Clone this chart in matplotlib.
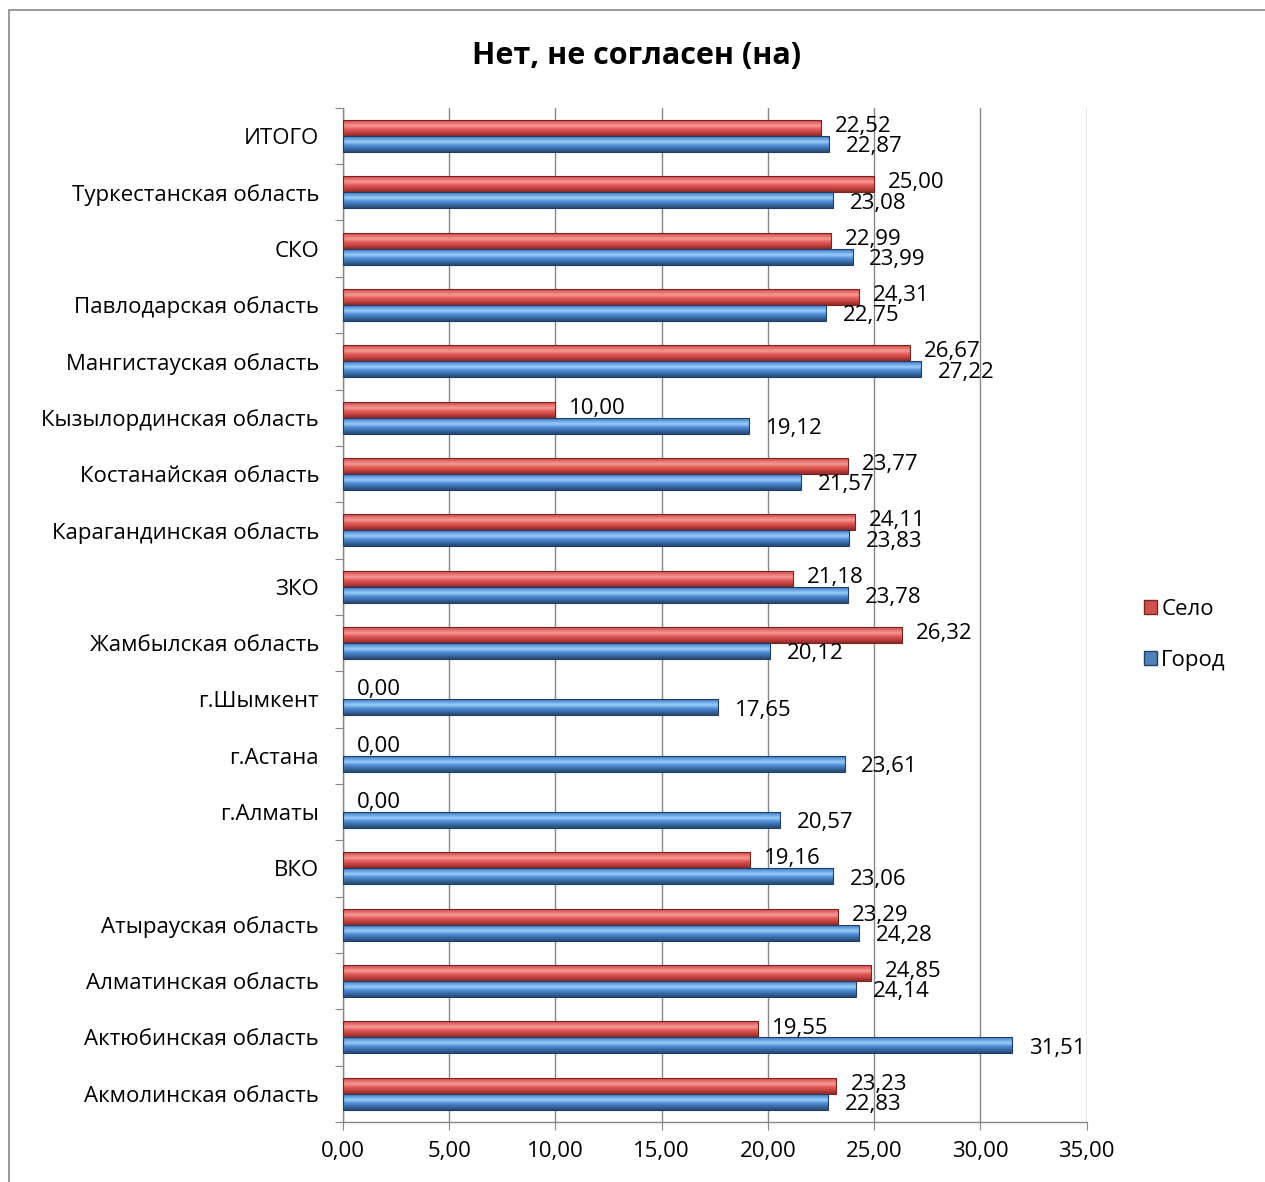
import numpy as np
import matplotlib.pyplot as plt
from matplotlib.patches import Rectangle
from matplotlib.colors import LinearSegmentedColormap

plt.rcParams['font.family'] = ['Open Sans', 'DejaVu Sans']

categories = ['Акмолинская область', 'Актюбинская область', 'Алматинская область',
              'Атырауская область', 'ВКО', 'г.Алматы', 'г.Астана', 'г.Шымкент',
              'Жамбылская область', 'ЗКО', 'Карагандинская область',
              'Костанайская область', 'Кызылординская область',
              'Мангистауская область', 'Павлодарская область', 'СКО',
              'Туркестанская область', 'ИТОГО']
selo = [23.23, 19.55, 24.85, 23.29, 19.16, 0.00, 0.00, 0.00, 26.32, 21.18,
        24.11, 23.77, 10.00, 26.67, 24.31, 22.99, 25.00, 22.52]
gorod = [22.83, 31.51, 24.14, 24.28, 23.06, 20.57, 23.61, 17.65, 20.12, 23.78,
         23.83, 21.57, 19.12, 27.22, 22.75, 23.99, 23.08, 22.87]
xticks = [0, 5, 10, 15, 20, 25, 30, 35]

red_cmap = LinearSegmentedColormap.from_list('r', ['#8f2a28', '#c0413e', '#e25a57', '#f59a98', '#e66764', '#b33c39'])
blue_cmap = LinearSegmentedColormap.from_list('b', ['#274a73', '#3a6aa6', '#4f8fd8', '#9ccdf8', '#5d9be0', '#3b6ba8'])

fig = plt.figure(figsize=(12.65, 11.82), dpi=100)
ax = fig.add_axes([0.271, 0.0508, 0.588, 0.858])

y = np.arange(len(categories))
h = 0.285
grad = np.linspace(0, 1, 64).reshape(-1, 1)


def shade(bars, cmap, edge):
    for b in bars:
        x0, y0 = b.get_x(), b.get_y()
        w, hh = b.get_width(), b.get_height()
        if w <= 0:
            continue
        b.set_facecolor('none')
        b.set_edgecolor(edge)
        b.set_linewidth(0.8)
        im = ax.imshow(grad, cmap=cmap, aspect='auto', origin='lower',
                       extent=[x0, x0 + w, y0, y0 + hh], zorder=2.5)
        im.set_clip_path(b)


bars_s = ax.barh(y + h / 2, selo, height=h, zorder=3, label='Село')
bars_g = ax.barh(y - h / 2, gorod, height=h, zorder=3, label='Город')
shade(bars_s, red_cmap, '#7a2422')
shade(bars_g, blue_cmap, '#213f63')

for yi, v in zip(y, selo):
    ax.annotate(f'{v:.2f}'.replace('.', ','), (v, yi + h / 2), xytext=(10, 1),
                textcoords='offset points', va='center', ha='left', fontsize=16)
for yi, v in zip(y, gorod):
    ax.annotate(f'{v:.2f}'.replace('.', ','), (v, yi - h / 2), xytext=(12, -2),
                textcoords='offset points', va='center', ha='left', fontsize=16)

ax.set_xlim(0, 35)
ax.set_ylim(-0.5, len(categories) - 0.5)
ax.set_xticks(xticks)
ax.set_xticklabels([f'{t:.2f}'.replace('.', ',') for t in xticks], fontsize=16)
ax.set_yticks(np.arange(len(categories) + 1) - 0.5)
ax.set_yticklabels([])
ax.set_yticks(y, minor=True)
ax.set_yticklabels(categories, minor=True, fontsize=16)
ax.tick_params(axis='y', which='minor', length=0, pad=17)
ax.tick_params(axis='y', which='major', length=6, color='#868686')
ax.tick_params(axis='x', length=6, color='#868686', pad=8)
ax.grid(axis='x', color='#868686', linewidth=1, zorder=0)
ax.set_axisbelow(True)
for s in ['top', 'right']:
    ax.spines[s].set_visible(False)
for s in ['left', 'bottom']:
    ax.spines[s].set_color('#868686')
    ax.spines[s].set_linewidth(1)

fig.text(0.503, 0.953, 'Нет, не согласен (на)', ha='center', va='center',
         fontsize=22, fontweight='bold')

handles = [Rectangle((0, 0), 1, 1, facecolor='#d0504d', edgecolor='#7a2422'),
           Rectangle((0, 0), 1, 1, facecolor='#4f81bd', edgecolor='#213f63')]
fig.legend(handles, ['Село', 'Город'], loc='center left',
           bbox_to_anchor=(0.904, 0.463), frameon=False, fontsize=16,
           handlelength=0.6, handleheight=0.6, handletextpad=0.2,
           labelspacing=1.35, borderpad=0, borderaxespad=0)

fig.patches.append(Rectangle((0.007, -0.01), 1.0, 1 - 0.0085 + 0.01,
                             transform=fig.transFigure, fill=False,
                             edgecolor='#868686', linewidth=1.2))

fig.savefig('out.png', dpi=100)
